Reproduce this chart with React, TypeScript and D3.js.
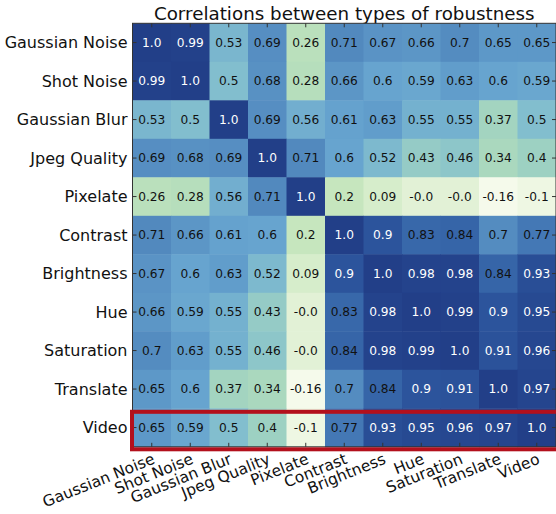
import React from "react";
import * as d3 from "d3";

const labels = [
  "Gaussian Noise", "Shot Noise", "Gaussian Blur", "Jpeg Quality", "Pixelate",
  "Contrast", "Brightness", "Hue", "Saturation", "Translate", "Video",
];

const rowGaussianNoise = [1.0, 0.99, 0.53, 0.69, 0.26, 0.71, 0.67, 0.66, 0.7, 0.65, 0.65];
const rowShotNoise = [0.99, 1.0, 0.5, 0.68, 0.28, 0.66, 0.6, 0.59, 0.63, 0.6, 0.59];
const rowGaussianBlur = [0.53, 0.5, 1.0, 0.69, 0.56, 0.61, 0.63, 0.55, 0.55, 0.37, 0.5];
const rowJpegQuality = [0.69, 0.68, 0.69, 1.0, 0.71, 0.6, 0.52, 0.43, 0.46, 0.34, 0.4];
const rowPixelate = [0.26, 0.28, 0.56, 0.71, 1.0, 0.2, 0.09, -0.0, -0.0, -0.16, -0.1];
const rowContrast = [0.71, 0.66, 0.61, 0.6, 0.2, 1.0, 0.9, 0.83, 0.84, 0.7, 0.77];
const rowBrightness = [0.67, 0.6, 0.63, 0.52, 0.09, 0.9, 1.0, 0.98, 0.98, 0.84, 0.93];
const rowHue = [0.66, 0.59, 0.55, 0.43, -0.0, 0.83, 0.98, 1.0, 0.99, 0.9, 0.95];
const rowSaturation = [0.7, 0.63, 0.55, 0.46, -0.0, 0.84, 0.98, 0.99, 1.0, 0.91, 0.96];
const rowTranslate = [0.65, 0.6, 0.37, 0.34, -0.16, 0.7, 0.84, 0.9, 0.91, 1.0, 0.97];
const rowVideo = [0.65, 0.59, 0.5, 0.4, -0.1, 0.77, 0.93, 0.95, 0.96, 0.97, 1.0];

const matrix = [
  rowGaussianNoise, rowShotNoise, rowGaussianBlur, rowJpegQuality, rowPixelate,
  rowContrast, rowBrightness, rowHue, rowSaturation, rowTranslate, rowVideo,
];

const highlighted = "Video";
const title = "Correlations between types of robustness";

function fmt(v: number): string {
  if (Number.isInteger(v)) {
    return (Object.is(v, -0) ? "-" : "") + Math.abs(v).toFixed(1);
  }
  return String(v);
}

export default function App() {
  const W = 556, H = 514;
  const cell = 38.5;
  const x0 = 132.5, y0 = 23.3;
  const n = labels.length;

  const x = d3.scaleBand<string>().domain(labels).range([x0, x0 + n * cell]);
  const y = d3.scaleBand<string>().domain(labels).range([y0, y0 + n * cell]);

  const stops = [-0.16, 0, 0.1, 0.2, 0.3, 0.4, 0.5, 0.6, 0.7, 0.8, 0.9, 1.0];
  const cols = ["#f5faeb", "#e2f1d6", "#d5ecca", "#c6e6be", "#b2dcbb", "#9dd1c2",
    "#82bece", "#67a4cf", "#548cc0", "#3d70b0", "#2c549c", "#223f88"];
  const color = d3.scaleLinear<string>().domain(stops).range(cols).interpolate(d3.interpolateRgb);

  const right = x0 + n * cell;
  const bottom = y0 + n * cell;
  const font = "'DejaVu Sans', sans-serif";

  return (
    <svg width={W} height={H} style={{ position: "absolute", left: 0, top: 0, background: "#fff" }}
      fontFamily={font}>
      <text x={(x0 + right) / 2} y={20} textAnchor="middle" fontSize={18.3} fill="#111">{title}</text>
      {matrix.map((row, i) =>
        row.map((v, j) => (
          <rect key={`c${i}-${j}`} x={x(labels[j])} y={y(labels[i])} width={x.bandwidth() + 0.5}
            height={y.bandwidth() + 0.5} fill={color(v)} />
        ))
      )}
      {matrix.map((row, i) =>
        row.map((v, j) => (
          <text key={`t${i}-${j}`} x={(x(labels[j]) as number) + x.bandwidth() / 2}
            y={(y(labels[i]) as number) + y.bandwidth() / 2} dy="0.36em" textAnchor="middle"
            fontSize={12.2} fill={v >= 0.85 ? "#ffffff" : "#111"}>{fmt(v)}</text>
        ))
      )}
      <rect x={x0} y={y0} width={n * cell} height={n * cell} fill="none" stroke="#333" strokeWidth={1} />
      {labels.map((l) => {
        const cx = (x(l) as number) + x.bandwidth() / 2;
        const cy = (y(l) as number) + y.bandwidth() / 2;
        return (
          <g key={`k${l}`} stroke="#333" strokeWidth={1}>
            <line x1={cx} x2={cx} y1={y0} y2={y0 + 4} />
            <line x1={cx} x2={cx} y1={bottom} y2={bottom - 4} />
            <line x1={x0} x2={x0 + 4} y1={cy} y2={cy} />
            <line x1={right} x2={right - 4} y1={cy} y2={cy} />
          </g>
        );
      })}
      {labels.map((l) => (
        <text key={`y${l}`} x={127.5} y={(y(l) as number) + y.bandwidth() / 2} dy="0.36em"
          textAnchor="end" fontSize={16} fill="#111">{l}</text>
      ))}
      {labels.map((l) => {
        const ax = (x(l) as number) + x.bandwidth() / 2 + 4;
        const ay = 463;
        return (
          <text key={`x${l}`} x={ax} y={ay} textAnchor="end" fontSize={15.5} fill="#111"
            transform={`rotate(-22 ${ax} ${ay})`}>{l}</text>
        );
      })}
      <rect x={132} y={(y(highlighted) as number) + 3.5} width={430} height={y.bandwidth() - 1}
        fill="none" stroke="#b3101c" strokeWidth={4} />
    </svg>
  );
}
